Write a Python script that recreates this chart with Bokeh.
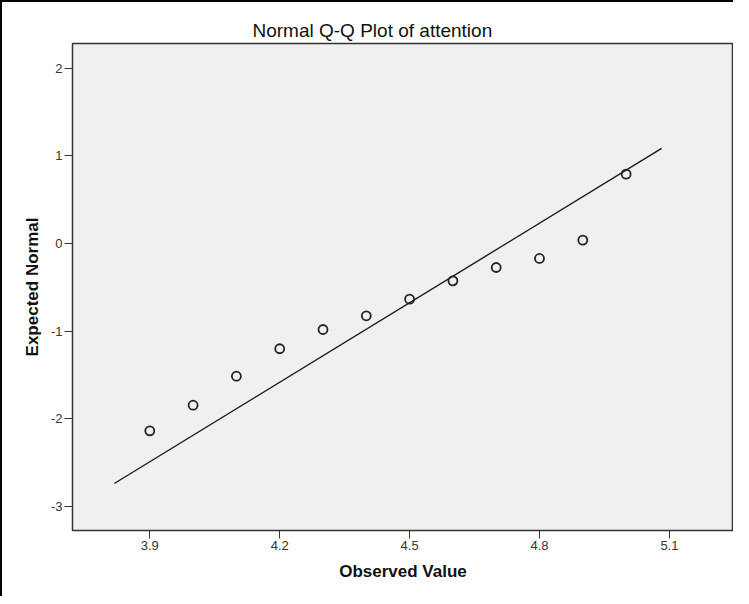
from bokeh.plotting import figure
from bokeh.embed import file_html
from bokeh.resources import INLINE
from bokeh.models import Range1d, FixedTicker, ColumnDataSource, CustomJSTickFormatter

# Data
observed = [3.9, 4.0, 4.1, 4.2, 4.3, 4.4, 4.5, 4.6, 4.7, 4.8, 4.9, 5.0]
expected = [-2.137, -1.845, -1.514, -1.201, -0.981, -0.825, -0.635, -0.426, -0.274, -0.171, 0.038, 0.791]
line_x = [3.818, 5.082]
line_y = [-2.738, 1.084]
x_ticks = [3.9, 4.2, 4.5, 4.8, 5.1]
y_ticks = [-3, -2, -1, 0, 1, 2]

FONT = "Liberation Sans"

p = figure(width=733, height=596, output_backend="svg", toolbar_location=None,
           x_range=Range1d(3.7215, 5.248), y_range=Range1d(-3.274, 2.281),
           min_border_left=72, min_border_right=0, min_border_top=43, min_border_bottom=66)

p.title.text = "Normal Q-Q Plot of attention"
p.title.align = "left"
p.title.offset = 180
p.title.text_font = FONT
p.title.text_font_size = "19px"
p.title.text_font_style = "normal"
p.title.text_color = "#111111"
p.title.standoff = 5

p.background_fill_color = "#f0f0f0"
p.border_fill_alpha = 0
p.outline_line_color = "#333333"
p.outline_line_width = 1.5
p.grid.visible = False
p.styles = {"box-shadow": "inset 2px 2px 0 0 #000000"}

p.line(line_x, line_y, line_color="#1a1a1a", line_width=1.4)
src = ColumnDataSource(dict(x=observed, y=expected))
p.scatter("x", "y", source=src, size=9, marker="circle", fill_alpha=0,
          line_color="#222222", line_width=1.8)

p.xaxis.ticker = FixedTicker(ticks=x_ticks)
p.yaxis.ticker = FixedTicker(ticks=y_ticks)
p.xaxis.formatter = CustomJSTickFormatter(code="return tick.toFixed(1);")
p.yaxis.formatter = CustomJSTickFormatter(code="return String(Math.round(tick));")
for ax in (p.xaxis, p.yaxis):
    ax.major_tick_out = 8
    ax.major_tick_in = 0
    ax.minor_tick_out = 0
    ax.minor_tick_in = 0
    ax.axis_line_color = "#333333"
    ax.major_tick_line_color = "#333333"
    ax.major_label_text_font = FONT
    ax.major_label_text_font_size = "13px"
    ax.major_label_text_color = "#333333"
    ax.major_label_standoff = 2
    ax.axis_label_text_font = FONT
    ax.axis_label_text_font_size = "17px"
    ax.axis_label_text_font_style = "bold"
    ax.axis_label_text_color = "#111111"

p.xaxis.axis_label = "Observed Value"
p.yaxis.axis_label = "Expected Normal"
p.xaxis.axis_label_standoff = 9
p.yaxis.axis_label_standoff = 6

open("out.html", "w").write(file_html(p, INLINE))
